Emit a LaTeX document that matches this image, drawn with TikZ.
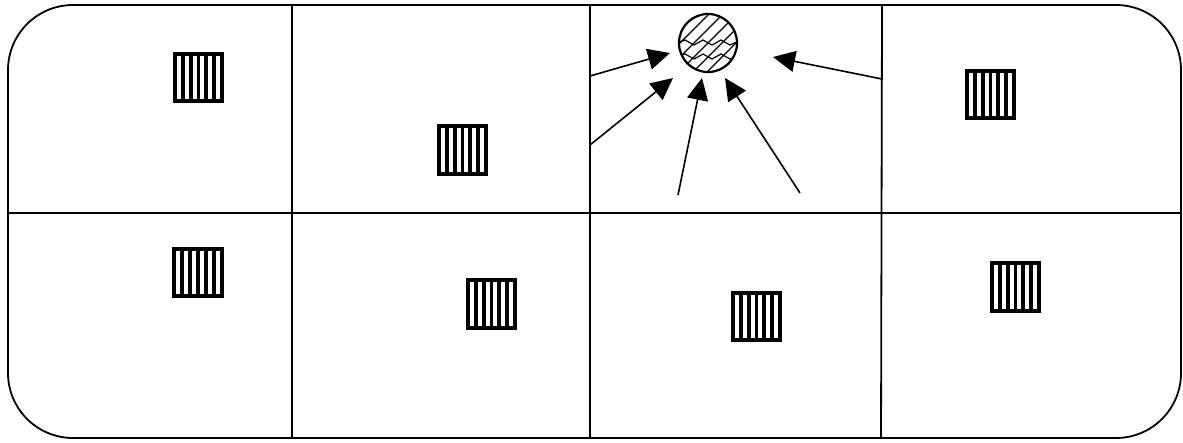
\documentclass[tikz,border=0pt]{standalone}
\usetikzlibrary{arrows.meta,calc}
\begin{document}
\begin{tikzpicture}[x=0.01cm,y=-0.01cm, line width=0.018cm,
  stripebox/.style={draw, line width=0.04cm, inner sep=0, minimum size=0.47cm,
    path picture={\foreach \i in {1,...,5}{\draw[line width=0.038cm]
      ($(path picture bounding box.south west)!\i/6!(path picture bounding box.south east)$) --
      ($(path picture bounding box.north west)!\i/6!(path picture bounding box.north east)$);}}},
  ballstyle/.style={circle, draw, line width=0.022cm, inner sep=0, minimum size=0.58cm,
    path picture={
      \foreach \d in {-42,-28,...,42}{\draw[line width=0.012cm]
        ([shift={(\d-40,40)}]path picture bounding box.center) -- ++(80,-80);}
      \draw[line width=0.012cm] ([shift={(-32,0)}]path picture bounding box.center)
        -- ++(9,-3) -- ++(9,5) -- ++(9,-5) -- ++(9,5) -- ++(9,-5) -- ++(9,5) -- ++(9,-4);
      \draw[line width=0.012cm] ([shift={(-32,14)}]path picture bounding box.center)
        -- ++(9,-3) -- ++(9,5) -- ++(9,-5) -- ++(9,5) -- ++(9,-5) -- ++(9,5) -- ++(9,-4);
    }},
  arr/.style={-{Triangle[length=0.22cm,width=0.21cm]}, line width=0.016cm}]

\useasboundingbox (0,0) rectangle (1183,442);

% outer frame
\draw[rounded corners=0.65cm] (8,5) rectangle (1181,438);

% grid lines
\coordinate (t1) at (292,5);   \coordinate (b1) at (292,438);
\coordinate (t2) at (590,5);   \coordinate (b2) at (590,438);
\coordinate (t3) at (882,5);   \coordinate (b3) at (881,438);
\coordinate (hl) at (8,213);   \coordinate (hr) at (1181,213);
\draw (t1) -- (b1);
\draw (t2) -- (b2);
\draw (t3) -- (b3);
\draw (hl) -- (hr);

% striped boxes
\node[stripebox] (r1) at (198.5,77.5) {};
\node[stripebox] (r2) at (462.5,150) {};
\node[stripebox] (r3) at (990.5,94.5) {};
\node[stripebox] (r4) at (198,272.5) {};
\node[stripebox] (r5) at (491.5,304) {};
\node[stripebox] (r6) at (756.5,316.5) {};
\node[stripebox] (r7) at (1015.5,287) {};

% hatched ball
\node[ballstyle] (ball) at (708,43) {};

% arrows
\coordinate (s1) at (590,76);  \coordinate (e1) at (670,53);
\coordinate (s2) at (590,145); \coordinate (e2) at (673,78);
\coordinate (s3) at (678,195); \coordinate (e3) at (702,78);
\coordinate (s4) at (800,193); \coordinate (e4) at (725,78);
\coordinate (s5) at (882,79);  \coordinate (e5) at (773,57);
\draw[arr] (s1) -- (e1);
\draw[arr] (s2) -- (e2);
\draw[arr] (s3) -- (e3);
\draw[arr] (s4) -- (e4);
\draw[arr] (s5) -- (e5);
\end{tikzpicture}
\end{document}
